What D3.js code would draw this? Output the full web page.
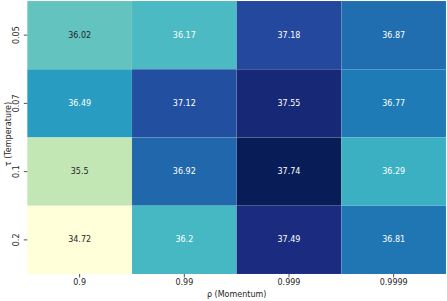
<!DOCTYPE html>
<html><head><meta charset="utf-8">
<script src="https://cdn.jsdelivr.net/npm/d3@7"></script>
<style>body{margin:0;background:#fff}svg{display:block}text{font-family:"DejaVu Sans",sans-serif;}</style>
</head><body>
<script>
const rowLabels = ["0.05","0.07","0.1","0.2"];
const colLabels = ["0.9","0.99","0.999","0.9999"];
const values = [
  [36.02, 36.17, 37.18, 36.87],
  [36.49, 37.12, 37.55, 36.77],
  [35.5, 36.92, 37.74, 36.29],
  [34.72, 36.2, 37.49, 36.81]
];
const xTitle = "ρ (Momentum)";
const yTitle = "τ (Temperature)";
const palette = ["#ffffd9","#edf8b1","#c7e9b4","#7fcdbb","#41b6c4","#1d91c0","#225ea8","#253494","#081d58"];

const W = 447, H = 301;
const m = {left: 27.3, right: 1, top: 1, bottom: 27};
const svg = d3.select("body").append("svg").attr("width", W).attr("height", H);

const x = d3.scaleBand().domain(colLabels).range([m.left, W - m.right]);
const y = d3.scaleBand().domain(rowLabels).range([m.top, H - m.bottom]);

const flat = values.flat();
const vmin = d3.min(flat), vmax = d3.max(flat);
const color = d3.scaleLinear()
  .domain(palette.map((_, i) => vmin + (vmax - vmin) * i / (palette.length - 1)))
  .range(palette).interpolate(d3.interpolateRgb).clamp(true);

const cells = [];
values.forEach((row, i) => row.forEach((v, j) => cells.push({r: rowLabels[i], c: colLabels[j], v})));

svg.append("g").selectAll("rect").data(cells).join("rect")
  .attr("x", d => x(d.c)).attr("y", d => y(d.r))
  .attr("width", x.bandwidth()).attr("height", y.bandwidth())
  .attr("fill", d => color(d.v))
  .attr("stroke", "rgba(255,255,255,0.1)").attr("stroke-width", 0.6);

function lum(c) {
  const rgb = d3.rgb(c);
  const f = u => { u /= 255; return u <= 0.03928 ? u / 12.92 : Math.pow((u + 0.055) / 1.055, 2.4); };
  return 0.2126 * f(rgb.r) + 0.7152 * f(rgb.g) + 0.0722 * f(rgb.b);
}

svg.append("g").selectAll("text").data(cells).join("text")
  .attr("x", d => x(d.c) + x.bandwidth() / 2)
  .attr("y", d => y(d.r) + y.bandwidth() / 2)
  .attr("text-anchor", "middle").attr("dominant-baseline", "central")
  .attr("font-size", 8)
  .attr("fill", d => lum(color(d.v)) > 0.408 ? "#262626" : "#ffffff")
  .text(d => d.v);

// x axis
const xa = svg.append("g").attr("transform", `translate(0,${H - m.bottom})`)
  .call(d3.axisBottom(x).tickSize(3.5).tickPadding(2));
xa.select(".domain").remove();
xa.selectAll("line").attr("stroke", "#262626").attr("stroke-width", 0.8);
xa.selectAll("text").attr("font-size", 8).attr("fill", "#262626").attr("font-family", "DejaVu Sans");

// y axis
const ya = svg.append("g").attr("transform", `translate(${m.left},0)`)
  .call(d3.axisLeft(y).tickSize(3.5).tickPadding(0));
ya.select(".domain").remove();
ya.selectAll("line").attr("stroke", "#262626").attr("stroke-width", 0.8);
ya.selectAll("text").attr("font-size", 8).attr("fill", "#262626").attr("font-family", "DejaVu Sans")
  .attr("text-anchor", "middle").attr("dy", null).attr("x", null)
  .attr("dominant-baseline", "central")
  .attr("transform", "translate(-11.3,0) rotate(-90)");

svg.append("text").attr("x", (m.left + W - m.right) / 2).attr("y", 297)
  .attr("text-anchor", "middle").attr("font-size", 8).attr("fill", "#262626").text(xTitle);
svg.append("text").attr("transform", `translate(11,134) rotate(-90)`)
  .attr("text-anchor", "middle").attr("font-size", 8).attr("fill", "#262626").text(yTitle);
</script>
</body></html>
